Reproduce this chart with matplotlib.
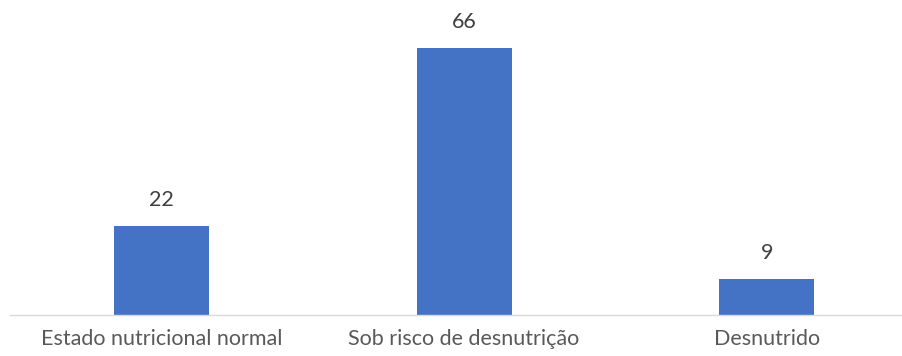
import matplotlib
matplotlib.use("Agg")
import matplotlib.pyplot as plt

# Nutritional status counts
categorias = ["Estado nutricional normal", "Sob risco de desnutrição", "Desnutrido"]
valores = [22, 66, 9]

plt.rcParams['font.family'] = ['Lato', 'DejaVu Sans']

fig = plt.figure(figsize=(9.03, 3.56), dpi=100)
ax = fig.add_axes([10 / 903, 41 / 356, 893 / 903, (315 - 31.8) / 356])

x = range(len(categorias))
bars = ax.bar(x, valores, width=0.314, color="#4472C4", zorder=2)

ax.set_xlim(-0.5, -0.5 + 893 / 302.7)
ax.set_ylim(0, 70)

for rect, v in zip(bars, valores):
    ax.annotate(str(v), (rect.get_x() + rect.get_width() / 2, v),
                xytext=(0, 18.5), textcoords="offset points",
                ha="center", va="center", fontsize=15.5, color="#404040")

ax.set_xticks(list(x))
ax.set_xticklabels(categorias, fontsize=15.5, color="#595959")
ax.tick_params(axis="x", length=0, pad=10)
ax.set_yticks([])

for side in ["top", "right", "left"]:
    ax.spines[side].set_visible(False)
ax.spines["bottom"].set_color("#D9D9D9")
ax.spines["bottom"].set_linewidth(1)

fig.savefig("out.png", dpi=100)
plt.close(fig)
